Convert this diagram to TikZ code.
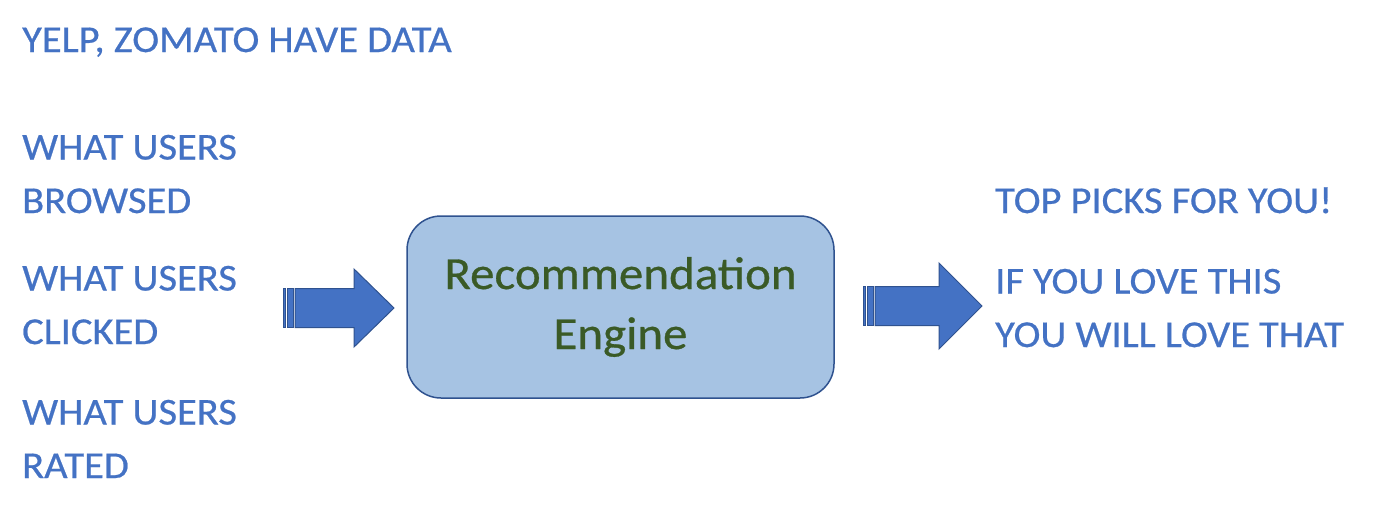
\documentclass[tikz,border=0pt]{standalone}
\usepackage{fontspec}
\setmainfont{Carlito}[FakeStretch=1.065,FakeBold=0.6]
\usetikzlibrary{positioning}
\definecolor{txtblue}{HTML}{4472C4}
\definecolor{edgeblue}{HTML}{2F528F}
\definecolor{boxfill}{HTML}{A6C3E3}
\definecolor{engine}{HTML}{3A5A26}

\begin{document}
\begin{tikzpicture}[x=1pt,y=-1pt,
 label/.style={inner sep=0pt,anchor=base west,align=left,text=txtblue,font=\fontsize{38}{53.5}\selectfont},
 engbox/.style={draw=edgeblue,line width=1.5pt,fill=boxfill,rounded corners=34pt,minimum width=427pt,minimum height=182pt,
   align=center,text=engine,font=\fontsize{46}{60}\selectfont},
 fat/.style={fill=txtblue,draw=edgeblue,line width=1pt}]
\useasboundingbox (0,0) rectangle (1400,509);
\fill[white] (0,0) rectangle (1400,509);
\node[label] (src) at (22,52) {YELP, ZOMATO HAVE DATA};
\node[label] (browsed) at (22,213) {WHAT USERS\\BROWSED};
\node[label] (clicked) at (22,344) {WHAT USERS\\CLICKED};
\node[label] (rated) at (22,478) {WHAT USERS\\RATED};
\node[engbox] (eng) at (620.5,307) {Recommendation\\Engine};
\node[label] (top) at (995,213) {TOP PICKS FOR YOU!};
\node[label] (love) at (995,347) {IF YOU LOVE THIS\\YOU WILL LOVE THAT};
% striped arrows
\coordinate (inA) at (283,308);
\coordinate (outA) at (863,306);
\foreach \c/\len/\hw/\hl in {inA/111/39/40,outA/119/43/43}{
 \begin{scope}[shift={(\c)}]
  \filldraw[fat] (0,-19.5) rectangle (2.5,19.5);
  \filldraw[fat] (4.5,-19.5) rectangle (10,19.5);
  \filldraw[fat] (12,-19.5) -- (\len-\hl,-19.5) -- (\len-\hl,-\hw) -- (\len,0)
   -- (\len-\hl,\hw) -- (\len-\hl,19.5) -- (12,19.5) -- cycle;
 \end{scope}}
\end{tikzpicture}
\end{document}
